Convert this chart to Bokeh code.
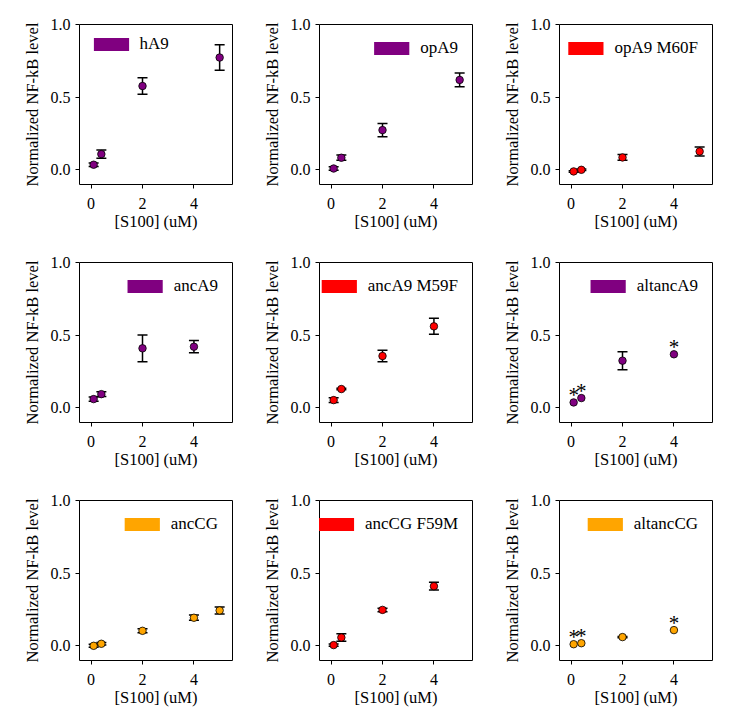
from bokeh.plotting import figure
from bokeh.layouts import gridplot
from bokeh.models import (ColumnDataSource, Whisker, TeeHead, FixedTicker, Legend,
                          LegendItem, PrintfTickFormatter)
from bokeh.core.properties import value
from bokeh.embed import file_html
from bokeh.resources import INLINE

FONT = "Liberation Serif"
NAN = float("nan")

names = ["hA9", "opA9", "opA9 M60F", "ancA9", "ancA9 M59F", "altancA9",
         "ancCG", "ancCG F59M", "altancCG"]
colors = ["purple", "purple", "red", "purple", "red", "purple",
          "orange", "red", "orange"]

hA9_x = [0.1, 0.4, 2, 5]
hA9_y = [0.036, 0.109, 0.577, 0.773]
hA9_err = [0.012, 0.029, 0.057, 0.087]

opA9_x = [0.1, 0.4, 2, 5]
opA9_y = [0.010, 0.084, 0.274, 0.619]
opA9_err = [0.012, 0.018, 0.046, 0.047]

opA9M60F_x = [0.1, 0.4, 2, 5]
opA9M60F_y = [-0.010, 0.001, 0.086, 0.127]
opA9M60F_err = [0.005, 0.005, 0.020, 0.031]

ancA9_x = [0.1, 0.4, 2, 4]
ancA9_y = [0.061, 0.095, 0.410, 0.421]
ancA9_err = [0.015, 0.016, 0.092, 0.042]

ancA9M59F_x = [0.1, 0.4, 2, 4]
ancA9M59F_y = [0.054, 0.130, 0.357, 0.561]
ancA9M59F_err = [0.016, 0.005, 0.039, 0.055]

altancA9_x = [0.1, 0.4, 2, 4]
altancA9_y = [0.038, 0.068, 0.325, 0.369]
altancA9_err = [0.0, 0.0, 0.062, 0.0]
altancA9_sig = [1, 1, 0, 1]

ancCG_x = [0.1, 0.4, 2, 4, 5]
ancCG_y = [0.001, 0.015, 0.104, 0.194, 0.244]
ancCG_err = [0.010, 0.008, 0.014, 0.018, 0.024]

ancCGF59M_x = [0.1, 0.4, 2, 4]
ancCGF59M_y = [0.006, 0.058, 0.248, 0.411]
ancCGF59M_err = [0.008, 0.026, 0.012, 0.027]

altancCG_x = [0.1, 0.4, 2, 4]
altancCG_y = [0.012, 0.019, 0.061, 0.109]
altancCG_err = [0.0, 0.0, 0.004, 0.0]
altancCG_sig = [1, 1, 0, 1]

x_ticks = [0, 2, 4]
y_ticks = [0.0, 0.5, 1.0]

panels = [
    (hA9_x, hA9_y, hA9_err, None),
    (opA9_x, opA9_y, opA9_err, None),
    (opA9M60F_x, opA9M60F_y, opA9M60F_err, None),
    (ancA9_x, ancA9_y, ancA9_err, None),
    (ancA9M59F_x, ancA9M59F_y, ancA9M59F_err, None),
    (altancA9_x, altancA9_y, altancA9_err, altancA9_sig),
    (ancCG_x, ancCG_y, ancCG_err, None),
    (ancCGF59M_x, ancCGF59M_y, ancCGF59M_err, None),
    (altancCG_x, altancCG_y, altancCG_err, altancCG_sig),
]


def make_panel(i):
    xs, ys, errs, sig = panels[i]
    col = i % 3
    w = 240 if col < 2 else 236
    rb = 8 if col < 2 else 4
    p = figure(width=w, height=238, output_backend="svg", toolbar_location=None,
               x_range=(-0.45, 5.5), y_range=(-0.1, 1.0),
               min_border_left=79, min_border_right=rb,
               min_border_top=24, min_border_bottom=54)
    p.xgrid.visible = False
    p.ygrid.visible = False
    p.outline_line_color = "black"
    p.outline_line_width = 1
    p.background_fill_color = "white"
    p.border_fill_color = "white"
    for ax in (p.xaxis, p.yaxis):
        ax.axis_line_color = None
        ax.major_tick_in = 0
        ax.major_tick_out = 4
        ax.major_tick_line_color = "black"
        ax.minor_tick_line_color = None
        ax.major_label_text_font = FONT
        ax.major_label_text_font_size = "16px"
        ax.major_label_text_color = "black"
        ax.axis_label_text_font = FONT
        ax.axis_label_text_font_size = "16.5px"
        ax.axis_label_text_font_style = "normal"
        ax.axis_label_text_color = "black"
    p.xaxis.ticker = FixedTicker(ticks=x_ticks)
    p.yaxis.ticker = FixedTicker(ticks=y_ticks)
    p.yaxis.formatter = PrintfTickFormatter(format="%.1f")
    p.xaxis.axis_label = "[S100] (uM)"
    p.yaxis.axis_label = "Normalized NF-kB level"
    p.xaxis.major_label_standoff = 9
    p.yaxis.major_label_standoff = 5
    p.xaxis.axis_label_standoff = 0
    p.yaxis.axis_label_standoff = 6

    # legend patch (only shown inside the legend)
    lg = p.quad(left=[NAN], right=[NAN], top=[NAN], bottom=[NAN],
                fill_color=colors[i], line_color=colors[i], line_alpha=0)

    ex = [x for x, e in zip(xs, errs) if e > 0]
    eu = [y + e for y, e in zip(ys, errs) if e > 0]
    el = [y - e for y, e in zip(ys, errs) if e > 0]
    es = ColumnDataSource(dict(base=ex, upper=eu, lower=el))
    wk = Whisker(source=es, base="base", upper="upper", lower="lower",
                 dimension="height", line_color="black", line_width=1.5,
                 upper_head=TeeHead(size=10, line_color="black", line_width=1.5),
                 lower_head=TeeHead(size=10, line_color="black", line_width=1.5))
    p.add_layout(wk)

    src = ColumnDataSource(dict(x=xs, y=ys))
    p.scatter("x", "y", source=src, size=7.5, marker="circle",
              fill_color=colors[i], line_color="black", line_width=0.8)

    if sig is not None:
        sx = [x for x, s in zip(xs, sig) if s]
        sy = [y for y, s in zip(ys, sig) if s]
        p.text(x=sx, y=sy, text=["*"] * len(sx), text_align="center",
               text_baseline="middle", text_font=value(FONT),
               text_font_size="21px", text_color="black", y_offset=-7)

    loc = (9.6, 130) if i == 0 else "top_right"
    leg = Legend(items=[LegendItem(label=names[i], renderers=[lg])],
                 location=loc,
                 margin=14, padding=0, glyph_width=44, glyph_height=16,
                 label_height=16, label_standoff=7, spacing=0,
                 label_text_font=FONT, label_text_font_size="17px",
                 label_text_color="black",
                 border_line_alpha=0, background_fill_alpha=0)
    p.add_layout(leg)
    return p


figs = [make_panel(i) for i in range(9)]
grid = gridplot([figs[0:3], figs[3:6], figs[6:9]], toolbar_location=None)

open("out.html", "w").write(file_html(grid, INLINE))
